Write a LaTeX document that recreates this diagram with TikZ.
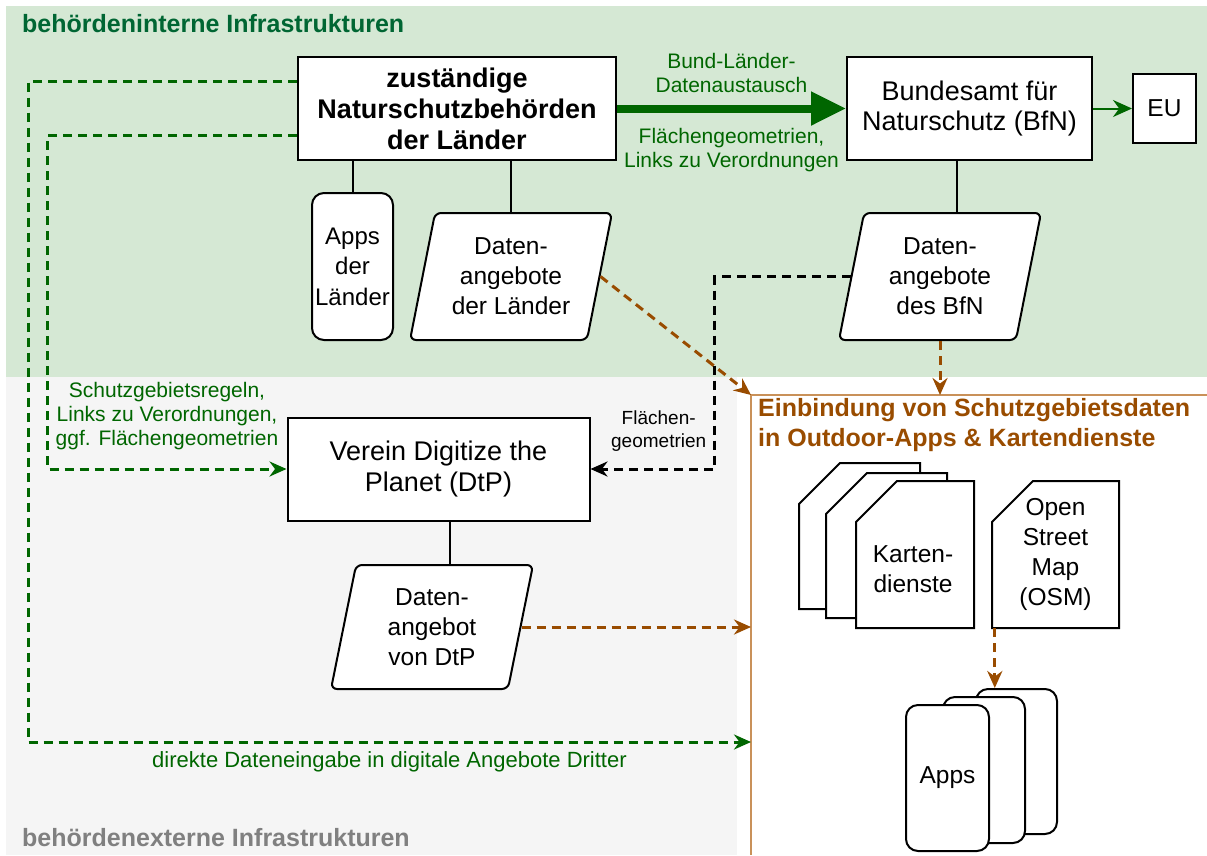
\documentclass[tikz,border=0pt]{standalone}
\usepackage{fontspec}
\setmainfont{Liberation Sans}
\usetikzlibrary{arrows.meta,shapes.geometric}

\definecolor{gruenbg}{HTML}{D5E8D4}
\definecolor{graubg}{HTML}{F5F5F5}
\definecolor{dunkelgruen}{HTML}{006600}
\definecolor{titelgruen}{HTML}{006633}
\definecolor{titelgrau}{HTML}{808080}
\definecolor{braun}{HTML}{994C00}
\definecolor{braunhell}{HTML}{C99159}

% Blatt mit abgeschnittener Ecke oben links
\newcommand{\blatt}[4]{\filldraw[fill=white, line width=2pt] (#1+41,#2) -- (#3,#2) -- (#3,#4) -- (#1,#4) -- (#1,#2+41) -- cycle;}

\tikzset{
  kasten/.style={draw, fill=white, line width=2pt, align=center, inner sep=0pt, font=\fontsize{27}{30.5}\selectfont},
  klein/.style={font=\fontsize{24.5}{30}\selectfont},
  datenfeld/.style={kasten, klein, trapezium, trapezium left angle=72, trapezium right angle=108, trapezium stretches body=true, minimum width=202pt, minimum height=127pt, rounded corners=6pt},
  appkarte/.style={kasten, klein, rounded corners=12pt, minimum width=82pt, minimum height=146pt},
  titel/.style={font=\bfseries\fontsize{25}{30}\selectfont, inner sep=0pt, anchor=west, align=left},
  beschriftung/.style={font=\fontsize{21}{24}\selectfont, inner sep=0pt, align=center},
  verbindung/.style={line width=2pt},
  gruenpfeil/.style={dunkelgruen, line width=3pt, dash pattern=on 9pt off 6pt, -{Stealth[length=17pt,width=15pt]}},
  braunpfeil/.style={braun, line width=3pt, dash pattern=on 9pt off 6pt, -{Stealth[length=17pt,width=15pt]}},
  schwarzpfeil/.style={black, line width=3pt, dash pattern=on 9pt off 6pt, -{Stealth[length=17pt,width=15pt]}}
}

\begin{document}
\begin{tikzpicture}[x=1pt, y=-1pt]
  \useasboundingbox (0,0) rectangle (1207,855);
  % Hintergruende
  \fill[gruenbg] (6,6) rectangle (1207,377);
  \fill[graubg] (6,377) rectangle (737,855);
  \draw[braunhell, line width=2pt] (1207,395) -| (751,855);
  \coordinate (ecke) at (751,395);
  \coordinate (direkt) at (751,742);

  \node[titel, text=titelgruen] (intern) at (22,24) {behördeninterne Infrastrukturen};
  \node[titel, text=titelgrau] (extern) at (22,838) {behördenexterne Infrastrukturen};
  \node[titel, text=braun] (einbindung) at (758,425) {Einbindung von Schutzgebietsdaten\\in Outdoor-Apps \& Kartendienste};

  % Behoerden
  \node[kasten, font=\bfseries\fontsize{27}{31}\selectfont, minimum width=318pt, minimum height=103pt] (nsb) at (457,108.5) {zuständige\\Naturschutzbehörden\\der Länder};
  \node[kasten, minimum width=245pt, minimum height=103pt] (bfn) at (969.5,108.5) {Bundesamt für\\Naturschutz (BfN)};
  \node[kasten, klein, minimum width=63pt, minimum height=69pt] (eu) at (1164.5,108.5) {EU};
  \node[appkarte, font=\fontsize{24}{30.5}\selectfont, minimum width=81pt, minimum height=147pt] (appsl) at (352.5,266.5) {Apps\\der\\Länder};
  \node[datenfeld] (dl) at (511,276.5) {Daten-\\angebote\\der Länder};
  \node[datenfeld] (db) at (940,276.5) {Daten-\\angebote\\des BfN};

  % DtP
  \node[kasten, minimum width=302pt, minimum height=103pt] (dtp) at (438.5,469) {Verein Digitize the\\Planet (DtP)};
  \node[datenfeld, minimum height=124pt] (dd) at (432,627) {Daten-\\angebot\\von DtP};

  % Kartendienste und OSM
  \blatt{799}{463}{920}{609}
  \blatt{826}{473}{947}{618}
  \blatt{856}{481}{974}{628}
  \node[klein, align=center] (karten) at (913,569) {Karten-\\dienste};
  \blatt{992}{481}{1119}{628}
  \node[klein, align=center, minimum width=127pt, minimum height=147pt, inner sep=0pt] (osm) at (1055.5,554.5) {Open\\Street\\Map\\(OSM)};

  % Apps
  \node[appkarte, minimum width=81pt, minimum height=145pt] (apps3) at (1016.5,761.5) {};
  \node[appkarte] (apps2) at (984,770) {};
  \node[appkarte, minimum width=83pt] (apps) at (947.5,778) {Apps};

  % Verbindungen
  \draw[dunkelgruen, line width=8pt, -{Triangle[length=35pt,width=32pt]}] (nsb) --
    node[above=12pt, beschriftung] {Bund-Länder-\\Datenaustausch}
    node[below=16pt, beschriftung] {Flächengeometrien,\\Links zu Verordnungen} (bfn);
  \draw[dunkelgruen, line width=2pt, -{Stealth[length=19pt,width=17pt]}] (bfn) -- (eu);
  \draw[verbindung] (appsl.north) -- (appsl.north |- nsb.south);
  \draw[verbindung] (dl.north) -- (dl.north |- nsb.south);
  \draw[verbindung] (bfn.south) ++(-13,0) coordinate (bfnfuss) -- (bfnfuss |- db.north);
  \draw[verbindung] (dtp.south) ++(11,0) coordinate (dtpfuss) -- (dtpfuss |- dd.north);

  \draw[gruenpfeil] ([yshift=27pt]nsb.west) -| ([xshift=-723pt]direkt) --
    node[below=8pt, beschriftung, font=\fontsize{22}{24}\selectfont] {direkte Dateneingabe in digitale Angebote Dritter} (direkt);
  \draw[gruenpfeil] ([yshift=-27pt]nsb.west) -| ([xshift=-239pt]dtp.west) --
    node[above=18pt, beschriftung] {Schutzgebietsregeln,\\Links zu Verordnungen,\\ggf. Flächengeometrien} (dtp.west);
  \draw[schwarzpfeil] (db.west) -| ([xshift=124pt]dtp.east) --
    node[above=16pt, beschriftung, font=\fontsize{19}{23}\selectfont, pos=0.45] {Flächen-\\geometrien} (dtp.east);

  \draw[braunpfeil] (dl.east) -- (ecke);
  \draw[braunpfeil] (db.south) -- (db.south |- ecke);
  \draw[braunpfeil] (dd.east) -- (dd.east -| ecke);
  \draw[braunpfeil] (osm.south west) ++(3,0) coordinate (osmfuss) -- (osmfuss |- apps3.north);
\end{tikzpicture}
\end{document}
